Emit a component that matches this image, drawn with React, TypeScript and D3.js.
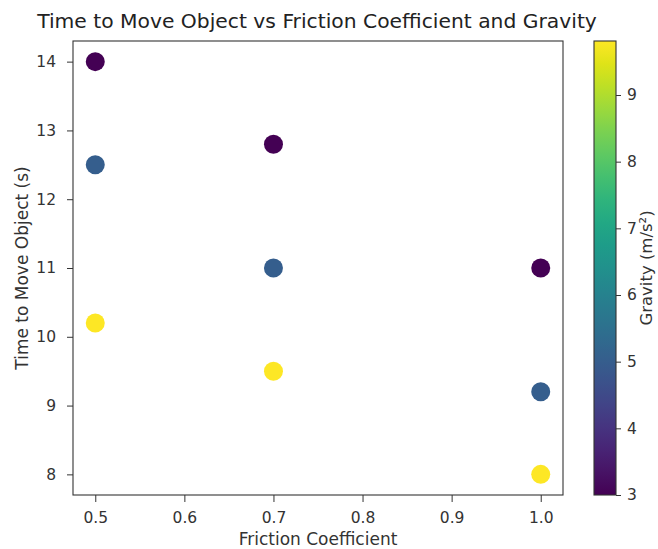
import React, { useEffect, useRef } from 'react';
import * as d3 from 'd3';

const friction = [0.5, 0.7, 1.0];
const gravityLevels = [3.0, 5.0, 9.81];
const timesLow = [14, 12.8, 11];
const timesMid = [12.5, 11, 9.2];
const timesHigh = [10.2, 9.5, 8];
const xTicks = [0.5, 0.6, 0.7, 0.8, 0.9, 1.0];
const yTicks = [8, 9, 10, 11, 12, 13, 14];
const cTicks = [3, 4, 5, 6, 7, 8, 9];

const W = 658;
const H = 549;
const font = 'DejaVu Sans, sans-serif';

const App = () => {
  const ref = useRef<SVGSVGElement>(null);

  useEffect(() => {
    const svg = d3.select(ref.current);
    svg.selectAll('*').remove();

    const left = 73, right = 563, top = 41, bottom = 495;
    const x = d3.scaleLinear().domain([0.475, 1.025]).range([left, right]);
    const y = d3.scaleLinear().domain([7.7, 14.3]).range([bottom, top]);
    const gMin = d3.min(gravityLevels)!, gMax = d3.max(gravityLevels)!;
    const color = (g: number) => d3.interpolateViridis((g - gMin) / (gMax - gMin));

    // one row of times per gravity level
    const series = [timesLow, timesMid, timesHigh];
    const pts = series.flatMap((ts, i) => ts.map((t, j) => ({ f: friction[j], t, g: gravityLevels[i] })));
    pts.sort((a, b) => a.f - b.f);

    svg.append('g')
      .selectAll('circle')
      .data(pts)
      .join('circle')
      .attr('cx', d => x(d.f))
      .attr('cy', d => y(d.t))
      .attr('r', 9.5)
      .attr('fill', d => color(d.g));

    // axes frame
    svg.append('rect')
      .attr('x', left).attr('y', top)
      .attr('width', right - left).attr('height', bottom - top)
      .attr('fill', 'none').attr('stroke', '#333').attr('stroke-width', 1.1);

    const xAxis = svg.append('g')
      .attr('transform', `translate(0,${bottom})`)
      .call(d3.axisBottom(x).tickValues(xTicks).tickFormat(d3.format('.1f')).tickSize(7).tickPadding(10));
    xAxis.select('.domain').remove();

    const yAxis = svg.append('g')
      .attr('transform', `translate(${left},0)`)
      .call(d3.axisLeft(y).tickValues(yTicks).tickFormat(d3.format('d')).tickSize(6).tickPadding(11));
    yAxis.select('.domain').remove();

    [xAxis, yAxis].forEach(a => {
      a.selectAll('line').attr('stroke', '#333');
      a.selectAll('text').attr('font-family', font).attr('font-size', 15.5).attr('fill', '#333');
    });

    svg.append('text')
      .attr('x', (left + right) / 2).attr('y', 545)
      .attr('text-anchor', 'middle')
      .attr('font-family', font).attr('font-size', 17).attr('fill', '#333')
      .text('Friction Coefficient');

    svg.append('text')
      .attr('transform', `translate(28,${(top + bottom) / 2}) rotate(-90)`)
      .attr('text-anchor', 'middle')
      .attr('font-family', font).attr('font-size', 17).attr('fill', '#333')
      .text('Time to Move Object (s)');

    svg.append('text')
      .attr('x', 317).attr('y', 28)
      .attr('text-anchor', 'middle')
      .attr('font-family', font).attr('font-size', 20.3).attr('fill', '#222')
      .text('Time to Move Object vs Friction Coefficient and Gravity');

    // colorbar
    const cbL = 594, cbR = 616;
    const c = d3.scaleLinear().domain([gMin, gMax]).range([bottom, top]);
    const grad = svg.append('defs').append('linearGradient')
      .attr('id', 'viridis').attr('x1', 0).attr('y1', 1).attr('x2', 0).attr('y2', 0);
    d3.range(0, 1.0001, 0.05).forEach(t => {
      grad.append('stop').attr('offset', t).attr('stop-color', d3.interpolateViridis(t));
    });
    svg.append('rect')
      .attr('x', cbL).attr('y', top)
      .attr('width', cbR - cbL).attr('height', bottom - top)
      .attr('fill', 'url(#viridis)').attr('stroke', '#333').attr('stroke-width', 1.1);

    const cAxis = svg.append('g')
      .attr('transform', `translate(${cbR},0)`)
      .call(d3.axisRight(c).tickValues(cTicks).tickFormat(d3.format('d')).tickSize(5).tickPadding(6));
    cAxis.select('.domain').remove();
    cAxis.selectAll('line').attr('stroke', '#333');
    cAxis.selectAll('text').attr('font-family', font).attr('font-size', 15.5).attr('fill', '#333');

    svg.append('text')
      .attr('transform', `translate(652,${(top + bottom) / 2}) rotate(-90)`)
      .attr('text-anchor', 'middle')
      .attr('font-family', font).attr('font-size', 16.5).attr('fill', '#333')
      .text('Gravity (m/s²)');
  }, []);

  return (
    <svg ref={ref} width={W} height={H}
      style={{ position: 'absolute', left: 0, top: 0, background: '#fff' }} />
  );
};

export default App;
